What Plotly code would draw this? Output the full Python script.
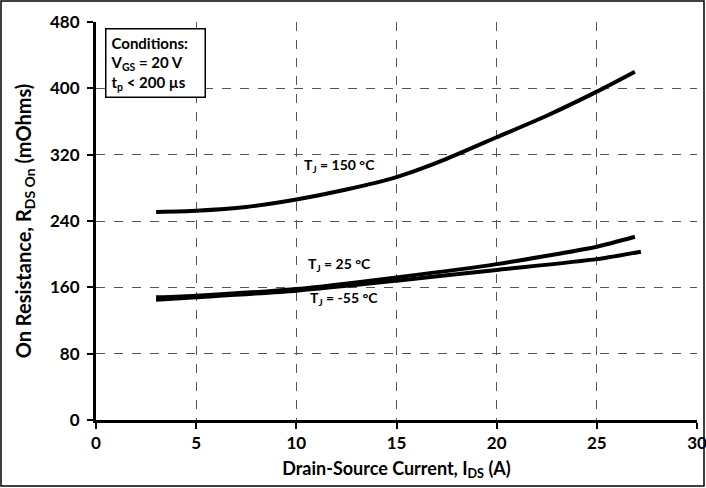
import plotly.graph_objects as go

# Data
x_150 = [3.0, 5.0, 7.5, 10.0, 12.5, 15.0, 17.5, 20.0, 22.5, 25.0, 26.9]
y_150 = [251, 252.5, 257, 266, 278, 293, 315, 341, 367, 396, 420]

x_25 = [3.0, 5.0, 10.0, 15.0, 20.0, 25.0, 26.9]
y_25 = [148, 150, 158, 172, 188, 209, 221]

x_m55 = [3.0, 5.0, 10.0, 15.0, 20.0, 25.0, 27.2]
y_m55 = [145, 148, 156, 168, 181, 194, 203]

x_ticks = [0, 5, 10, 15, 20, 25, 30]
y_ticks = [0, 80, 160, 240, 320, 400, 480]

FONT = "Lato"

fig = go.Figure()
for xs, ys in [(x_150, y_150), (x_25, y_25), (x_m55, y_m55)]:
    fig.add_trace(go.Scatter(x=xs, y=ys, mode="lines",
                             line=dict(color="black", width=4, shape="spline", smoothing=0.6),
                             showlegend=False, hoverinfo="skip"))

L, R, T, B = 96, 9, 22, 68
W, H = 706, 488
pw, ph = W - L - R, H - T - B

axis_common = dict(
    showline=True, linecolor="black", linewidth=3,
    ticks="outside", ticklen=6, tickwidth=2, tickcolor="black",
    showgrid=True, gridcolor="#555555", gridwidth=1, griddash="dash",
    zeroline=False, mirror=False, automargin=False,
    ticklabeloverflow="allow",
    tickfont=dict(family=FONT, size=17, color="black", weight="bold"),
)

fig.update_xaxes(range=[0, 30], tickvals=x_ticks, **axis_common,
                 title=dict(text="Drain-Source Current, I<sub>DS</sub> (A)",
                            font=dict(family=FONT, size=18, color="black", weight="bold"),
                            standoff=10))
fig.update_yaxes(range=[0, 480], tickvals=y_ticks, **axis_common,
                 ticklabelstandoff=4,
                 title=dict(text="On Resistance, R<sub>DS On</sub> (mOhms)",
                            font=dict(family=FONT, size=20, color="black", weight="bold"),
                            standoff=14))

ann_font = dict(family=FONT, size=14, color="black", weight="bold")
fig.add_annotation(x=12.15, y=307, text="T<sub>J</sub> = 150 °C", showarrow=False, font=ann_font)
fig.add_annotation(x=12.15, y=187, text="T<sub>J</sub> = 25 °C", showarrow=False, font=ann_font)
fig.add_annotation(x=12.4, y=147, text="T<sub>J</sub> = -55 °C", showarrow=False, font=ann_font)

box_font = dict(family=FONT, size=15, color="black", weight="bold")
fig.add_annotation(xref="paper", yref="paper", x=9 / pw, y=(420 - 28) / ph,
                   xanchor="left", yanchor="top", align="left", showarrow=False,
                   text="Conditions:<br>V<sub>GS</sub> = 20 V<br>t<sub>p</sub> < 200 µs",
                   font=box_font, bgcolor="white", bordercolor="black", borderwidth=1.5,
                   borderpad=4, width=90)

# outer border around whole image
fig.add_shape(type="rect", xref="paper", yref="paper",
              x0=(1 - L) / pw, x1=(W - 2 - L) / pw,
              y0=(420 - (H - 2)) / ph, y1=(420 - 1) / ph,
              line=dict(color="black", width=1.5), layer="above")

fig.update_layout(
    width=W, height=H,
    margin=dict(l=L, r=R, t=T, b=B, autoexpand=False),
    paper_bgcolor="white", plot_bgcolor="white",
    font=dict(family=FONT, color="black"),
)

fig.write_html("out.html", config={"displayModeBar": False},
               post_script="document.body.style.margin='0';document.body.style.overflow='hidden';")
